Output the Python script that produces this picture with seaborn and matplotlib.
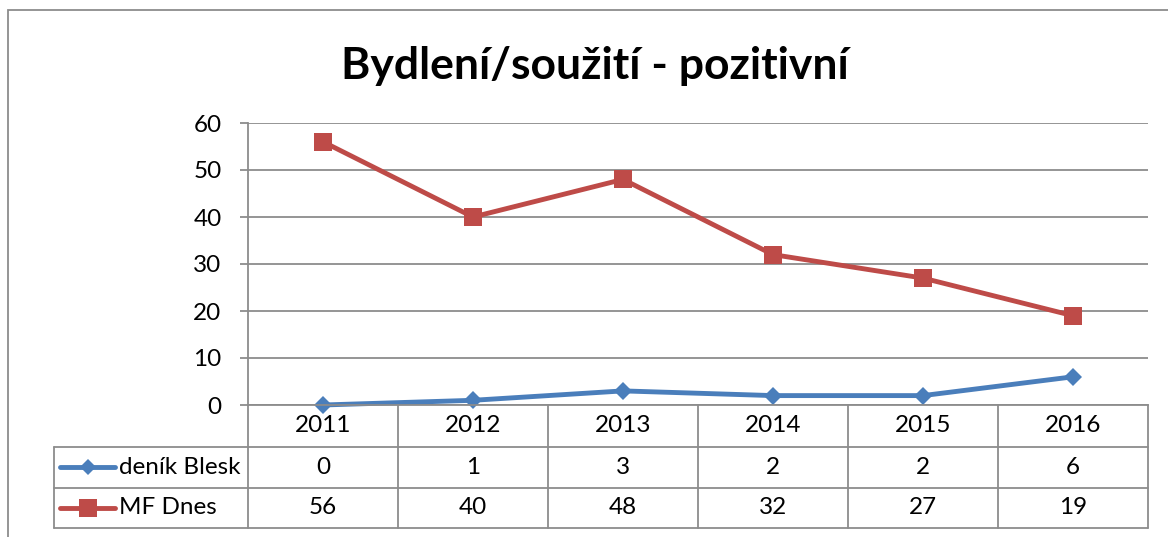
import numpy as np
import pandas as pd
import seaborn as sns
import matplotlib.pyplot as plt
from matplotlib.lines import Line2D
from matplotlib.patches import Rectangle

# data
years = ['2011', '2012', '2013', '2014', '2015', '2016']
blesk = [0, 1, 3, 2, 2, 6]
mfdnes = [56, 40, 48, 32, 27, 19]
series = ['deník Blesk', 'MF Dnes']
title = 'Bydlení/soužití - pozitivní'

colors = {'deník Blesk': '#4A7EBB', 'MF Dnes': '#BE4B48'}
markers = {'deník Blesk': 'D', 'MF Dnes': 's'}
msizes = {'deník Blesk': 9.5, 'MF Dnes': 13.5}
gray = '#8C8C8C'

df = pd.DataFrame({
    'pos': list(range(len(years))) * 2,
    'value': blesk + mfdnes,
    'series': [series[0]] * len(years) + [series[1]] * len(years),
})

# styling
sns.set_theme(style='white')
plt.rcParams['font.family'] = ['Lato', 'DejaVu Sans']
plt.rcParams['text.color'] = 'black'
fs = 17.5

W, H = 1168, 537
fig = plt.figure(figsize=(W / 100, H / 100), dpi=100)

def fx(x):
    return x / W

def fy(y):
    return 1 - y / H

# plot area in pixels
left, right, top, bottom = 248, 1148, 123, 405
ax = fig.add_axes([fx(left), fy(bottom), (right - left) / W, (bottom - top) / H])

for s in series:
    sns.lineplot(data=df[df['series'] == s], x='pos', y='value', ax=ax,
                 color=colors[s], marker=markers[s], markersize=msizes[s],
                 markeredgewidth=0, linewidth=3.5, legend=False, clip_on=False)

ax.set_xlim(-0.5, len(years) - 0.5)
ax.set_ylim(0, 60)
ax.set_yticks(range(0, 61, 10))
ax.set_xticks([])
ax.set_xlabel('')
ax.set_ylabel('')
ax.yaxis.grid(True, color=gray, linewidth=1.3)
ax.set_axisbelow(True)
for sp in ['top', 'right']:
    ax.spines[sp].set_visible(False)
for sp in ['left', 'bottom']:
    ax.spines[sp].set_color(gray)
    ax.spines[sp].set_linewidth(1.3)
ax.tick_params(axis='y', left=True, length=6, width=1.3, color=gray,
               pad=13, labelsize=fs, labelcolor='black')

# data table below the axis
def ay(y):
    return (bottom - y) / (bottom - top)

tr = ax.get_xaxis_transform()
row_lines = [447, 488, 528]
for y in row_lines:
    ax.add_line(Line2D([(54 - left) / (right - left), 1], [ay(y), ay(y)],
                       transform=ax.transAxes, color=gray, lw=1.3, clip_on=False))
for i in range(len(years) + 1):
    ax.add_line(Line2D([i - 0.5, i - 0.5], [0, ay(528)], transform=tr,
                       color=gray, lw=1.3, clip_on=False))
ax.add_line(Line2D([(54 - left) / (right - left)] * 2, [ay(447), ay(528)],
                   transform=ax.transAxes, color=gray, lw=1.3, clip_on=False))

for i, yr in enumerate(years):
    ax.text(i, ay(426), yr, transform=tr, ha='center', va='center', fontsize=fs)
for i, (b, m) in enumerate(zip(blesk, mfdnes)):
    ax.text(i, ay(467), str(b), transform=tr, ha='center', va='center', fontsize=fs)
    ax.text(i, ay(508), str(m), transform=tr, ha='center', va='center', fontsize=fs)

# legend keys inside table
for s, yc in zip(series, [467, 508]):
    fig.add_artist(Line2D([fx(60), fx(115)], [fy(yc), fy(yc)], color=colors[s], lw=3.5))
    fig.add_artist(Line2D([fx(88)], [fy(yc)], color=colors[s], marker=markers[s],
                          markersize=msizes[s] - 1, markeredgewidth=0))
    fig.text(fx(119), fy(yc), s, ha='left', va='center', fontsize=fs)

# title and outer border
fig.text(fx(595), fy(79), title, ha='center', va='baseline', fontsize=32,
         fontweight='bold')
fig.add_artist(Rectangle((fx(8), fy(560)), fx(1200 - 8), fy(10) - fy(560),
                         fill=False, edgecolor=gray, lw=1.3, transform=fig.transFigure))

fig.savefig('out.png', dpi=100)
